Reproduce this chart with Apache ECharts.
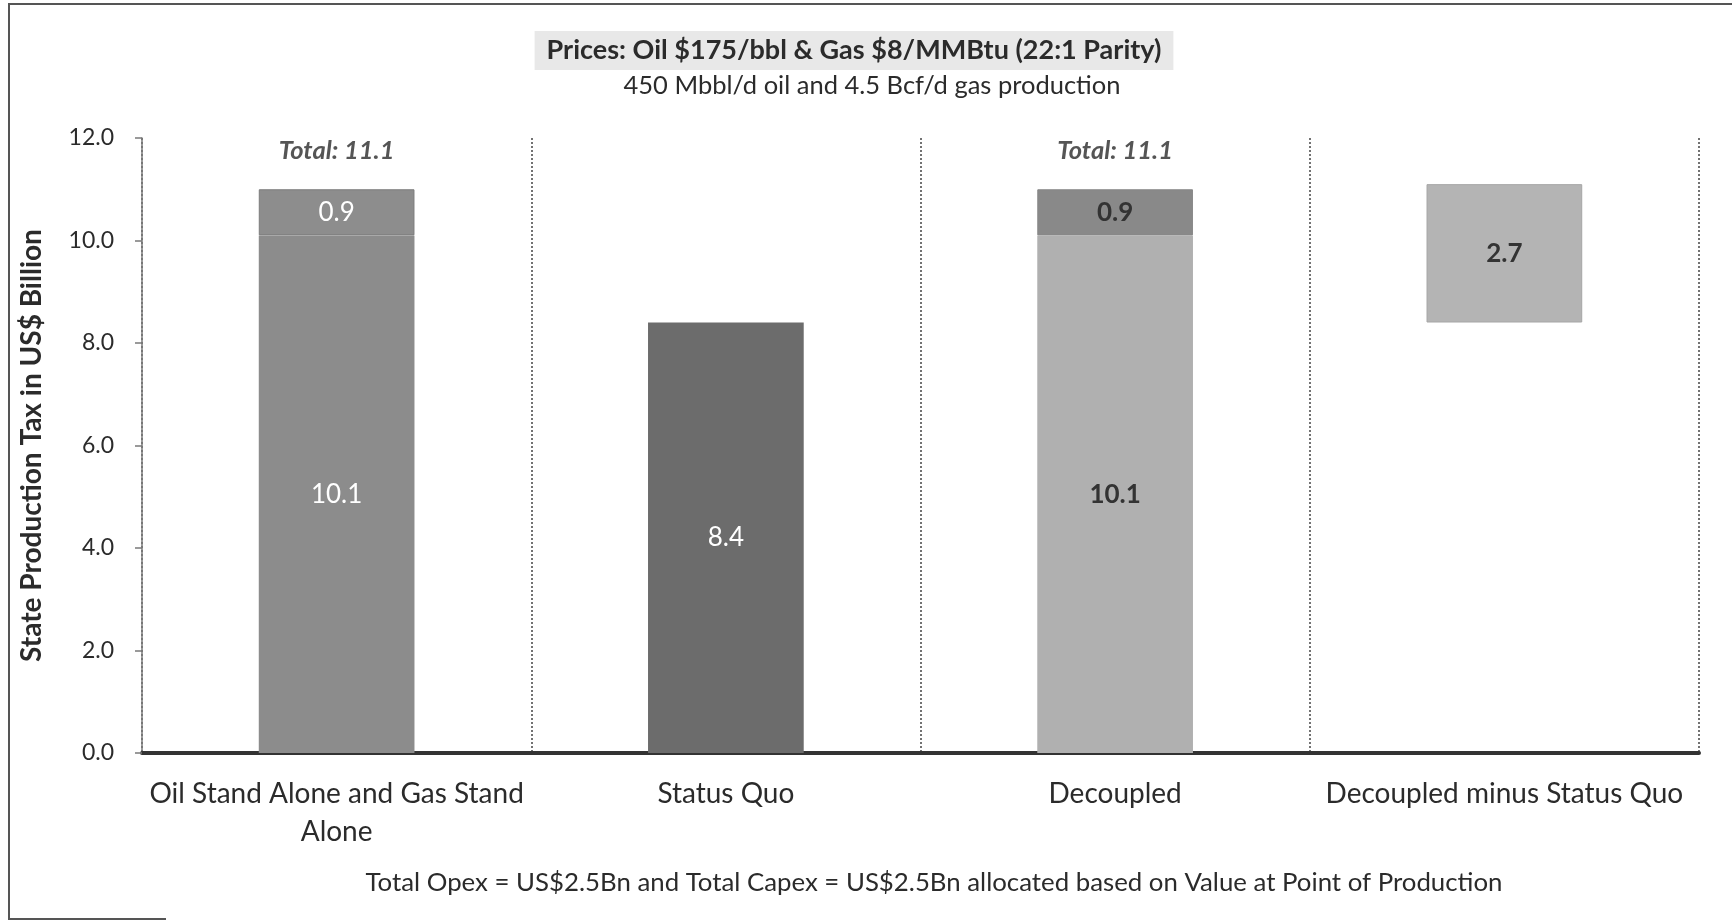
<!DOCTYPE html>
<html>
<head>
<meta charset="utf-8">
<title>State Production Tax</title>
<script src="https://cdn.jsdelivr.net/npm/echarts@6/dist/echarts.min.js"></script>
<style>
  html, body { margin: 0; padding: 0; background: #ffffff; }
  #chart { width: 1732px; height: 921px; }
</style>
</head>
<body>
<div id="chart"></div>
<script>
// Scenario categories along the x axis
const categories = [
  'Oil Stand Alone and Gas Stand\nAlone',
  'Status Quo',
  'Decoupled',
  'Decoupled minus Status Quo'
];

// Lower segment of each column (US$ billion); the last one is the
// Status Quo level the difference bar floats on
const lowerValues = [10.1, 8.4, 10.1, 8.4];
// Upper segment of each column (US$ billion)
const upperValues = [0.9, null, 0.9, 2.7];
// Column totals shown above the stacked columns
const totalValues = [11.1, null, 11.1, null];

// Y axis range and step
const yMin = 0, yMax = 12, yStep = 2;

const FONT = 'Lato, "Open Sans", sans-serif';

const lowerColors = ['#8c8c8c', '#6c6c6c', '#b0b0b0', 'transparent'];
const upperColors = ['#8d8d8d', '#8d8d8d', '#898989', '#b4b4b4'];
const lowerLabelColors = ['#ffffff', '#ffffff', '#333333', '#333333'];
const upperLabelColors = ['#ffffff', '#ffffff', '#333333', '#333333'];
const upperLabelWeights = ['normal', 'normal', 'bold', 'bold'];
const lowerLabelWeights = ['normal', 'normal', 'bold', 'normal'];

const chart = echarts.init(document.getElementById('chart'), null, { renderer: 'canvas' });

const option = {
  backgroundColor: '#ffffff',
  animation: false,
  title: [
    {
      text: 'Prices: Oil $175/bbl & Gas $8/MMBtu (22:1 Parity)',
      left: 842,
      top: 31,
      textAlign: 'center',
      backgroundColor: '#e8e8e8',
      padding: [6, 12, 6, 12],
      textStyle: { fontFamily: FONT, fontSize: 27, lineHeight: 27, fontWeight: 'bold', color: '#2b2b2b' }
    },
    {
      text: '450 Mbbl/d oil and 4.5 Bcf/d gas production',
      left: 872,
      top: 73,
      textAlign: 'center',
      padding: 0,
      textStyle: { fontFamily: FONT, fontSize: 25.5, lineHeight: 25, fontWeight: 'normal', color: '#2b2b2b' }
    },
    {
      text: 'Total Opex = US$2.5Bn and Total Capex = US$2.5Bn allocated based on Value at Point of Production',
      left: 934,
      top: 870,
      textAlign: 'center',
      padding: 0,
      textStyle: { fontFamily: FONT, fontSize: 25.8, lineHeight: 26, fontWeight: 'normal', color: '#2b2b2b' }
    }
  ],
  graphic: [
    {
      // outer frame: top and left edges plus the short visible piece of the bottom edge
      type: 'polyline',
      silent: true,
      shape: { points: [[1732, 4], [9, 4], [9, 919], [166, 919]] },
      style: { fill: 'none', stroke: '#555555', lineWidth: 2 }
    }
  ],
  grid: { left: 142, right: 33, top: 138, bottom: 168 },
  xAxis: {
    type: 'category',
    data: categories,
    boundaryGap: true,
    axisLine: { show: true, lineStyle: { color: '#333333', width: 4 } },
    axisTick: { show: false },
    splitLine: { show: true, lineStyle: { color: '#444444', width: 1.5, type: [2, 2] } },
    axisLabel: {
      interval: 0,
      margin: 22,
      fontFamily: FONT,
      fontSize: 28,
      color: '#2b2b2b',
      lineHeight: 38
    }
  },
  yAxis: {
    type: 'value',
    min: yMin,
    max: yMax,
    interval: yStep,
    name: 'State Production Tax in US$ Billion',
    nameLocation: 'middle',
    nameRotate: 90,
    nameGap: 96,
    nameTextStyle: { fontFamily: FONT, fontSize: 28, fontWeight: 'bold', color: '#2b2b2b' },
    axisLine: { show: true, lineStyle: { color: '#7a7a7a', width: 1.5 } },
    axisTick: { show: true, length: 7, lineStyle: { color: '#7a7a7a', width: 1.5 } },
    splitLine: { show: false },
    axisLabel: {
      margin: 28,
      fontFamily: FONT,
      fontSize: 23,
      color: '#2b2b2b',
      formatter: v => v.toFixed(1)
    }
  },
  series: [
    {
      name: 'Lower',
      type: 'bar',
      stack: 'tax',
      barWidth: '40%',
      data: lowerValues.map((v, i) => ({
        value: v,
        itemStyle: { color: lowerColors[i] },
        label: {
          show: i !== 3,
          position: 'inside',
          color: lowerLabelColors[i],
          fontWeight: lowerLabelWeights[i],
          fontFamily: FONT,
          fontSize: 26,
          formatter: p => p.value.toFixed(1)
        }
      }))
    },
    {
      name: 'Upper',
      type: 'bar',
      stack: 'tax',
      barWidth: '40%',
      data: upperValues.map((v, i) => (v == null ? '-' : {
        value: v,
        itemStyle: {
          color: upperColors[i],
          borderColor: i === 0 ? '#7c7c7c' : (i === 3 ? '#a6a6a6' : upperColors[i]),
          borderWidth: 1
        },
        label: {
          show: true,
          position: 'inside',
          color: upperLabelColors[i],
          fontWeight: upperLabelWeights[i],
          fontFamily: FONT,
          fontSize: 26,
          formatter: p => p.value.toFixed(1)
        }
      }))
    },
    {
      name: 'Total',
      type: 'scatter',
      symbolSize: 0,
      silent: true,
      data: totalValues.map(v => (v == null ? '-' : v)),
      label: {
        show: true,
        position: 'top',
        distance: 20,
        fontFamily: FONT,
        fontSize: 25.5,
        fontWeight: 'bold',
        fontStyle: 'italic',
        color: '#2b2b2b',
        formatter: p => 'Total: ' + p.value.toFixed(1)
      }
    }
  ]
};

chart.setOption(option);
</script>
</body>
</html>
